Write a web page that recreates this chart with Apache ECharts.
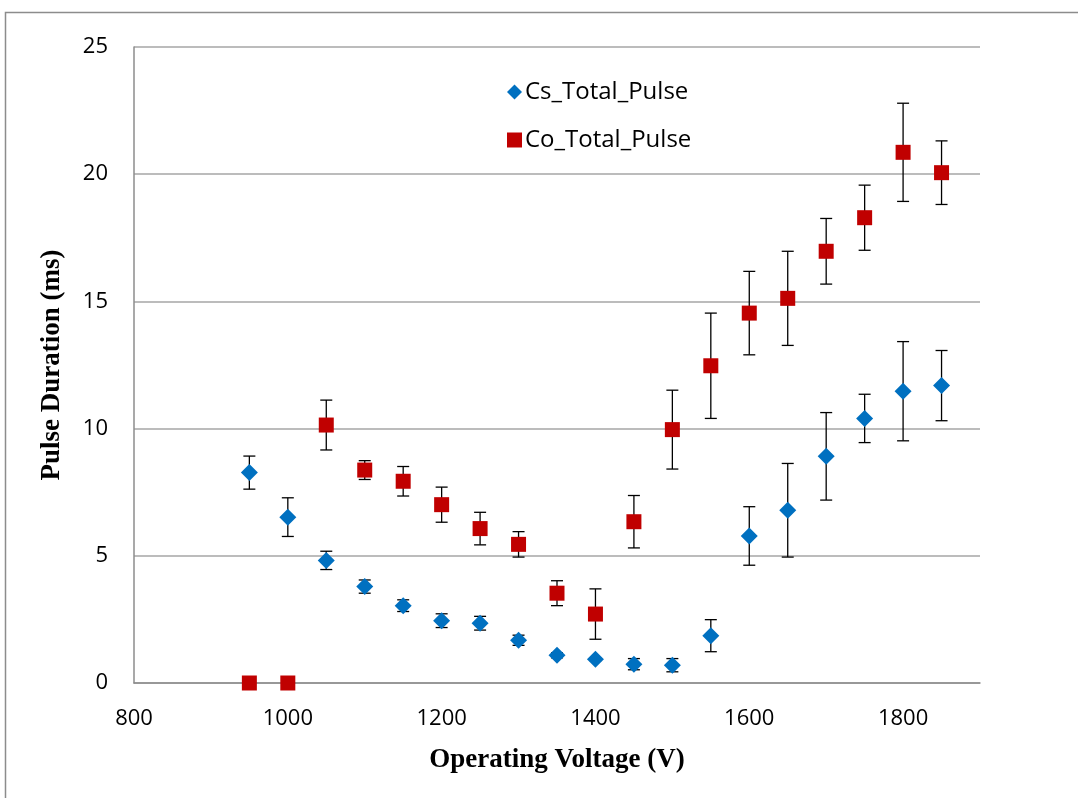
<!DOCTYPE html>
<html>
<head>
<meta charset="utf-8">
<script src="https://cdn.jsdelivr.net/npm/echarts@6/dist/echarts.min.js"></script>
<style>
  html, body { margin: 0; padding: 0; background: #ffffff; }
  #chart { width: 1078px; height: 798px; }
</style>
</head>
<body>
<div id="chart"></div>
<script>
// Operating voltage (V) for each measurement
const voltages = [950, 1000, 1050, 1100, 1150, 1200, 1250, 1300, 1350, 1400,
                  1450, 1500, 1550, 1600, 1650, 1700, 1750, 1800, 1850];

// Cs total pulse duration (ms) and its error
const csMean = [8.27, 6.52, 4.82, 3.79, 3.04, 2.45, 2.35, 1.68, 1.09, 0.93,
                0.74, 0.70, 1.86, 5.78, 6.79, 8.91, 10.40, 11.47, 11.69];
const csErr  = [0.65, 0.76, 0.36, 0.26, 0.23, 0.27, 0.27, 0.20, 0.10, 0.05,
                0.22, 0.26, 0.63, 1.15, 1.84, 1.72, 0.95, 1.95, 1.38];

// Co total pulse duration (ms) and its error
const coMean = [0, 0, 10.14, 8.37, 7.93, 7.01, 6.07, 5.45, 3.53, 2.71,
                6.34, 9.96, 12.47, 14.54, 15.12, 16.97, 18.29, 20.86, 20.06];
const coErr  = [0, 0, 0.98, 0.37, 0.58, 0.69, 0.64, 0.50, 0.49, 0.99,
                1.03, 1.55, 2.07, 1.64, 1.85, 1.29, 1.28, 1.93, 1.25];

const xTicks = [800, 1000, 1200, 1400, 1600, 1800];
const yTicks = [0, 5, 10, 15, 20, 25];

const CS_COLOR = '#0070C0';
const CO_COLOR = '#C00000';
const TICK_FONT = '"Open Sans", "Noto Sans", sans-serif';
const TITLE_FONT = '"Liberation Serif", "DejaVu Serif", serif';

const points = (means) => voltages.map((v, i) => [v, means[i]]);
const errRows = (means, errs) => voltages.map((v, i) => [v, means[i] - errs[i], means[i] + errs[i]]);

// Vertical error bar with caps
function errorBar(params, api) {
  const x = api.value(0);
  const lo = api.coord([x, api.value(1)]);
  const hi = api.coord([x, api.value(2)]);
  if (Math.abs(hi[1] - lo[1]) < 0.5) return null;
  const cap = 6;
  const style = { stroke: '#000000', lineWidth: 1.3 };
  return {
    type: 'group',
    children: [
      { type: 'line', shape: { x1: lo[0], y1: hi[1], x2: lo[0], y2: lo[1] }, style },
      { type: 'line', shape: { x1: lo[0] - cap, y1: hi[1], x2: lo[0] + cap, y2: hi[1] }, style },
      { type: 'line', shape: { x1: lo[0] - cap, y1: lo[1], x2: lo[0] + cap, y2: lo[1] }, style }
    ]
  };
}

const chart = echarts.init(document.getElementById('chart'), null, { renderer: 'canvas' });

chart.setOption({
  animation: false,
  backgroundColor: '#ffffff',
  graphic: [
    { type: 'polyline', silent: true,
      shape: { points: [[5.5, 798], [5.5, 12.5], [1078, 12.5]] },
      style: { stroke: '#8c8c8c', lineWidth: 1.5, fill: null } }
  ],
  grid: { left: 134, right: 98, top: 47, bottom: 115, containLabel: false },
  legend: {
    orient: 'vertical',
    left: 502,
    top: 75,
    itemWidth: 15,
    itemHeight: 15,
    itemGap: 24,
    textStyle: { fontFamily: TICK_FONT, fontSize: 24, color: '#000000', padding: [0, 0, 0, -2] },
    data: [
      { name: 'Cs_Total_Pulse', icon: 'diamond' },
      { name: 'Co_Total_Pulse', icon: 'rect' }
    ]
  },
  xAxis: {
    type: 'value',
    min: 800,
    max: 1900,
    interval: 200,
    name: 'Operating Voltage (V)',
    nameLocation: 'middle',
    nameGap: 64,
    nameTextStyle: { fontFamily: TITLE_FONT, fontWeight: 'bold', fontSize: 27, color: '#000000' },
    axisLine: { show: true, onZero: false, lineStyle: { color: '#8c8c8c', width: 1.5 } },
    axisTick: { show: false },
    splitLine: { show: false },
    axisLabel: {
      margin: 25,
      fontFamily: TICK_FONT,
      fontSize: 22,
      color: '#000000',
      formatter: (v) => (xTicks.includes(v) ? String(v) : '')
    }
  },
  yAxis: {
    type: 'value',
    min: 0,
    max: 25,
    interval: 5,
    name: 'Pulse Duration (ms)',
    nameLocation: 'middle',
    nameGap: 68,
    nameTextStyle: { fontFamily: TITLE_FONT, fontWeight: 'bold', fontSize: 27, color: '#000000' },
    axisLine: { show: true, lineStyle: { color: '#8c8c8c', width: 1.5 } },
    axisTick: { show: false },
    splitLine: { show: true, lineStyle: { color: '#a6a6a6', width: 1.5 } },
    axisLabel: {
      margin: 26,
      fontFamily: TICK_FONT,
      fontSize: 22,
      color: '#000000',
      formatter: (v) => (yTicks.includes(v) ? String(v) : '')
    }
  },
  series: [
    {
      name: 'Cs_err', type: 'custom', renderItem: errorBar, z: 2,
      data: errRows(csMean, csErr), encode: { x: 0, y: [1, 2] }, silent: true
    },
    {
      name: 'Co_err', type: 'custom', renderItem: errorBar, z: 2,
      data: errRows(coMean, coErr), encode: { x: 0, y: [1, 2] }, silent: true
    },
    {
      name: 'Cs_Total_Pulse', type: 'scatter', symbol: 'diamond', symbolSize: [17, 17], z: 5,
      itemStyle: { color: CS_COLOR, opacity: 1 },
      data: points(csMean)
    },
    {
      name: 'Co_Total_Pulse', type: 'scatter', symbol: 'rect', symbolSize: [15, 15], z: 6,
      itemStyle: { color: CO_COLOR, opacity: 1 },
      data: points(coMean)
    }
  ]
});
</script>
</body>
</html>
